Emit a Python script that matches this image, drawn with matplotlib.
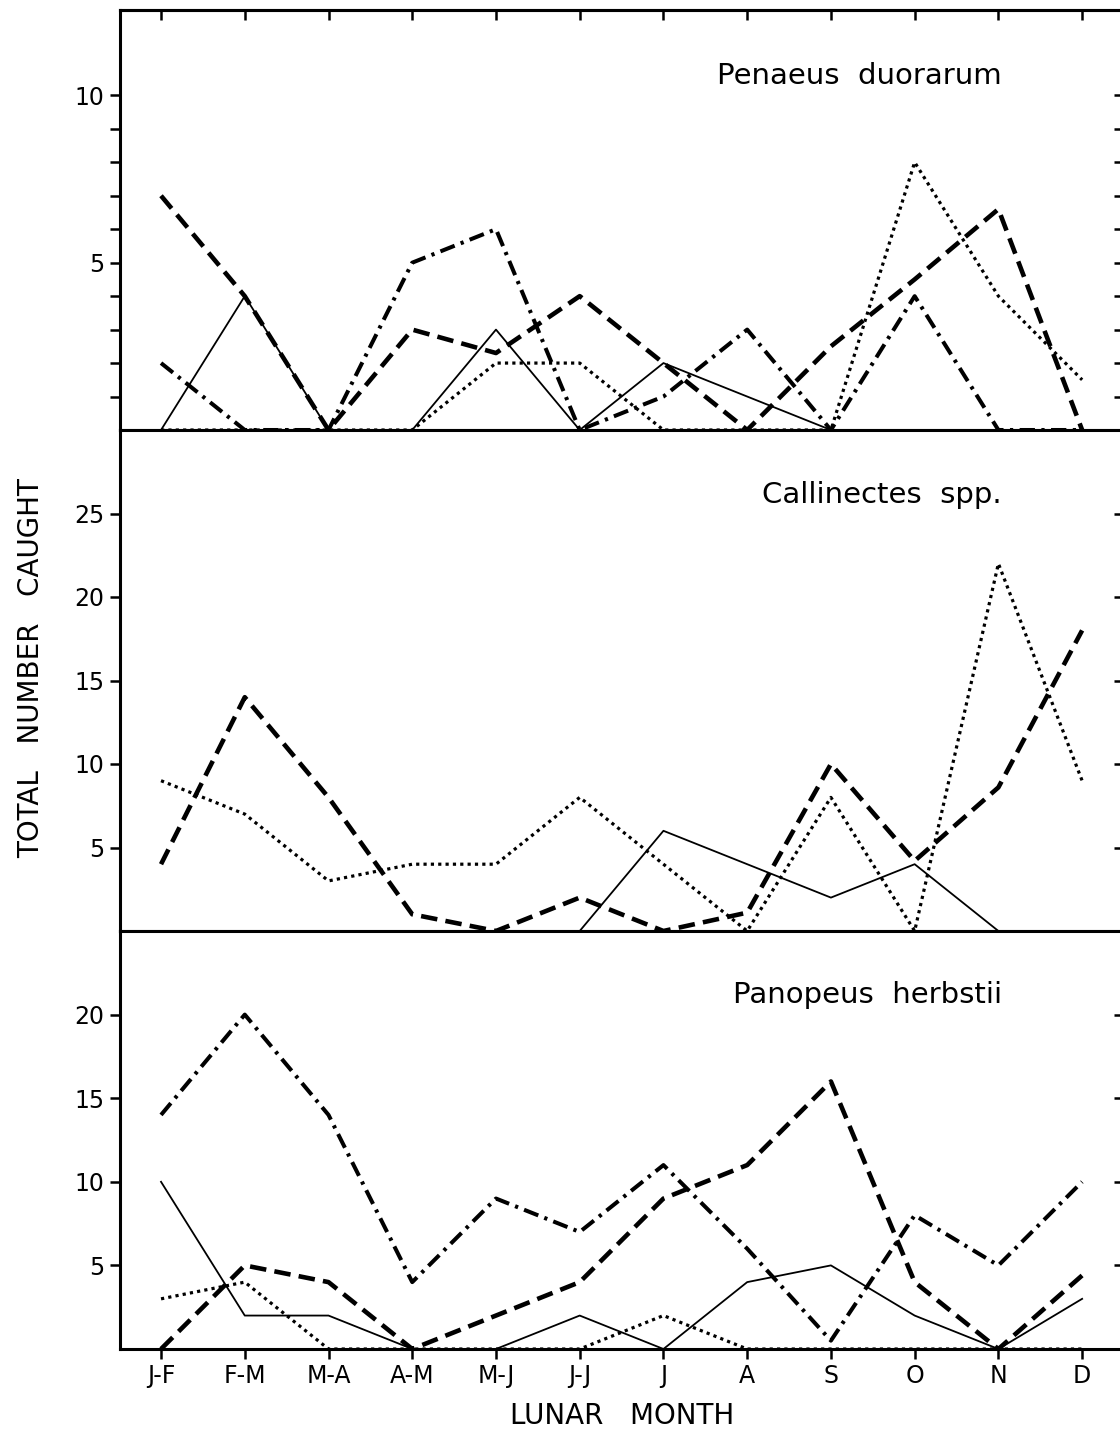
import matplotlib.pyplot as plt

months = ['J-F', 'F-M', 'M-A', 'A-M', 'M-J', 'J-J', 'J', 'A', 'S', 'O', 'N', 'D']

# Penaeus duorarum
penaeus_solid = [0, 4, 0, 0, 3, 0, 2, 1, 0, 0, 0, 0]
penaeus_dotted = [0, 0, 0, 0, 2, 2, 0, 0, 0, 8, 4, 1.5]
penaeus_dashed = [7, 4, 0, 3, 2.3, 4, 2, 0, 2.5, 4.5, 6.6, 0]
penaeus_dashdot = [2, 0, 0, 5, 6, 0, 1, 3, 0, 4, 0, 0]

# Callinectes spp.
callinectes_solid = [0, 0, 0, 0, 0, 0, 6, 4, 2, 4, 0, 0]
callinectes_dotted = [9, 7, 3, 4, 4, 8, 4, 0, 8, 0, 22, 9]
callinectes_dashed = [4, 14, 8, 1, 0, 2, 0, 1.1, 10, 4.2, 8.6, 18]

# Panopeus herbstii
panopeus_solid = [10, 2, 2, 0, 0, 2, 0, 4, 5, 2, 0, 3]
panopeus_dotted = [3, 4, 0, 0, 0, 0, 2, 0, 0, 0, 0, 0]
panopeus_dashed = [0, 5, 4, 0, 2, 4, 9, 11, 16, 4, 0, 4.4]
panopeus_dashdot = [14, 20, 14, 4, 9, 7, 11, 6, 0.5, 8, 5, 10]

styles = {
    'solid': dict(linestyle='-', linewidth=1.3),
    'dotted': dict(linestyle=(0, (1, 1.3)), linewidth=2.3),
    'dashed': dict(linestyle=(0, (3.6, 1.8)), linewidth=3.3),
    'dashdot': dict(linestyle=(0, (3.8, 1.6, 0.8, 1.6)), linewidth=2.9),
}

FS_TICK = 17
FS_LABEL = 20
FS_NAME = 21

fig = plt.figure(figsize=(11.2, 14.3), dpi=100)
W, H = 1120, 1430
x_left, x_right = 120, 1124


def make_axes(top_px, bottom_px):
    return fig.add_axes([x_left / W, 1 - bottom_px / H,
                         (x_right - x_left) / W, (bottom_px - top_px) / H])


def draw_panel(ax, series, ymax, yticks, ylabels, name, name_y, last=False):
    x = list(range(len(months)))
    for kind, values in series:
        ax.plot(x, values, color='black', clip_on=False, **styles[kind])
    ax.set_xlim(-0.49, 11.5)
    ax.set_ylim(0, ymax)
    ax.set_xticks(x)
    ax.set_xticklabels(months if last else [])
    ax.set_yticks(yticks)
    ax.set_yticklabels(ylabels)
    ax.tick_params(axis='both', direction='out', length=7, width=1.8,
                   labelsize=FS_TICK, pad=4)
    for sp in ax.spines.values():
        sp.set_linewidth(2.2)
    # inward ticks on the right side
    right = ax.secondary_yaxis('right')
    right.set_yticks(yticks)
    right.set_yticklabels([])
    right.tick_params(direction='in', length=7, width=1.8)
    right.spines['right'].set_linewidth(2.2)
    ax.text(10.04, name_y, name, ha='right', va='baseline', fontsize=FS_NAME)
    return ax


ax1 = make_axes(10, 430)
draw_panel(ax1,
           [('solid', penaeus_solid), ('dotted', penaeus_dotted),
            ('dashed', penaeus_dashed), ('dashdot', penaeus_dashdot)],
           12.55, list(range(1, 11)),
           ['' if v % 5 else str(v) for v in range(1, 11)],
           'Penaeus  duorarum', 10.33)
top = ax1.secondary_xaxis('top')
top.set_xticks(list(range(len(months))))
top.set_xticklabels([])
top.tick_params(direction='in', length=7, width=1.8)
top.spines['top'].set_linewidth(2.2)

ax2 = make_axes(430, 931)
draw_panel(ax2,
           [('solid', callinectes_solid), ('dotted', callinectes_dotted),
            ('dashed', callinectes_dashed)],
           30, [5, 10, 15, 20, 25], ['5', '10', '15', '20', '25'],
           'Callinectes  spp.', 25.6)

ax3 = make_axes(931, 1349)
draw_panel(ax3,
           [('solid', panopeus_solid), ('dotted', panopeus_dotted),
            ('dashed', panopeus_dashed), ('dashdot', panopeus_dashdot)],
           25, [5, 10, 15, 20], ['5', '10', '15', '20'],
           'Panopeus  herbstii', 20.7, last=True)
ax3.set_xlabel('LUNAR   MONTH', fontsize=FS_LABEL, labelpad=10)

fig.text(31 / W, 1 - 668 / H, 'TOTAL   NUMBER   CAUGHT', rotation=90,
         ha='center', va='center', fontsize=FS_LABEL)

fig.savefig('out.png', dpi=100)
